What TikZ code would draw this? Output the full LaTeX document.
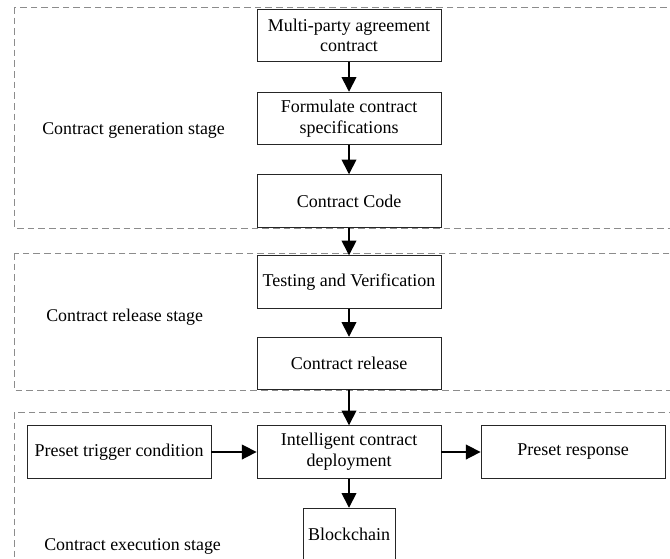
\documentclass[tikz,border=0pt]{standalone}
\usepackage{fontspec}
\setmainfont{Liberation Serif}
\usetikzlibrary{shapes,arrows.meta}
\tikzset{
	stagebox/.style={draw=black!45, dash pattern=on 5pt off 3pt, line width=0.6pt},
	procbox/.style={draw=black!85, line width=0.6pt, minimum width=138pt, minimum height=39.5pt, align=center, inner sep=1pt, font=\fontsize{13.5}{15.5}\selectfont},
	stagelabel/.style={anchor=west, inner sep=0pt, font=\fontsize{13.4}{15}\selectfont},
	flow/.style={line width=1.2pt, -{Triangle[length=11pt,width=11pt]}}
}
\begin{document}
\begin{tikzpicture}[x=0.75pt,y=-0.75pt]
	\useasboundingbox (0,0) rectangle (670,558);
	\clip (0,0) rectangle (670,558);
	% stages
	\draw[stagebox] (14,7) rectangle (690,228);
	\draw[stagebox] (14,253) rectangle (690,390);
	\draw[stagebox] (14,412) rectangle (690,600);
	\node[stagelabel] (lgen) at (42,131) {Contract generation stage};
	\node[stagelabel] (lrel) at (46,317) {Contract release stage};
	\node[stagelabel] (lexe) at (44,546) {Contract execution stage};
	% boxes
	\node[procbox] (agree) at (349,35.5) {Multi-party agreement\\contract};
	\node[procbox] (spec) at (349,118.5) {Formulate contract\\specifications};
	\node[procbox] (code) at (349,201) {Contract Code};
	\node[procbox] (test) at (349,282) {Testing and Verification};
	\node[procbox] (release) at (349,363.5) {Contract release};
	\node[procbox] (trigger) at (119,452) {Preset trigger condition};
	\node[procbox] (deploy) at (349,452) {Intelligent contract\\deployment};
	\node[procbox] (response) at (573,452) {Preset response};
	\node[procbox, minimum width=69pt] (chain) at (349,534.5) {Blockchain};
	% arrows
	\draw[flow] (agree) -- (spec);
	\draw[flow] (spec) -- (code);
	\draw[flow] (code) -- (test);
	\draw[flow] (test) -- (release);
	\draw[flow] (release) -- (deploy);
	\draw[flow] (trigger) -- (deploy);
	\draw[flow] (deploy) -- (response);
	\draw[flow] (deploy) -- (chain);
\end{tikzpicture}
\end{document}
